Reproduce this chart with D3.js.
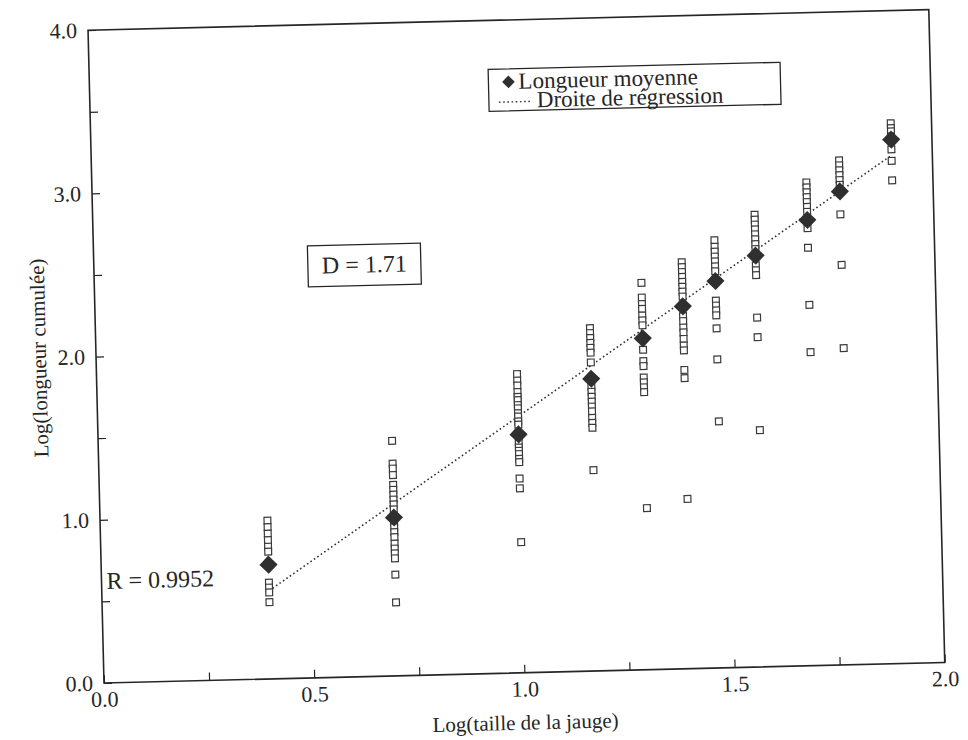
<!DOCTYPE html>
<html><head><meta charset="utf-8">
<script src="https://cdn.jsdelivr.net/npm/d3@7"></script>
<style>body{margin:0;background:#fff}</style>
</head><body>
<svg id="chart" width="968" height="740"></svg>
<script>
// ---- data ----
const gaugeLogSizes = [0.398, 0.699, 1.0, 1.176, 1.301, 1.398, 1.477, 1.574, 1.699, 1.778, 1.903];
const meanLengths   = [0.70, 0.97, 1.46, 1.79, 2.03, 2.22, 2.37, 2.52, 2.73, 2.90, 3.21];
const col1  = [0.97, 0.93, 0.89, 0.85, 0.81, 0.78, 0.59, 0.56, 0.53, 0.47];
const col2  = [1.44, 1.30, 1.27, 1.23, 1.17, 1.14, 1.11, 1.08, 1.05, 1.02, 0.94, 0.91, 0.88, 0.85, 0.81, 0.78, 0.75, 0.72, 0.62, 0.45];
const col3  = [1.83, 1.79, 1.76, 1.72, 1.69, 1.67, 1.64, 1.62, 1.59, 1.57, 1.54, 1.52, 1.41, 1.38, 1.36, 1.34, 1.31, 1.29, 1.19, 1.13, 0.80];
const col4  = [2.10, 2.07, 2.04, 2.01, 1.98, 1.95, 1.89, 1.74, 1.71, 1.68, 1.65, 1.62, 1.59, 1.55, 1.52, 1.49, 1.23];
const col5  = [2.37, 2.28, 2.24, 2.21, 2.17, 2.14, 2.11, 1.96, 1.89, 1.86, 1.79, 1.76, 1.73, 1.70, 0.99];
const col6  = [2.49, 2.46, 2.43, 2.40, 2.37, 2.34, 2.31, 2.28, 2.16, 2.13, 2.09, 2.06, 2.02, 1.98, 1.95, 1.83, 1.78, 1.04];
const col7  = [2.62, 2.58, 2.55, 2.52, 2.49, 2.46, 2.43, 2.25, 2.22, 2.19, 2.16, 2.08, 1.89, 1.51];
const col8  = [2.77, 2.74, 2.71, 2.68, 2.65, 2.62, 2.59, 2.56, 2.46, 2.43, 2.40, 2.14, 2.02, 1.45];
const col9  = [2.96, 2.93, 2.90, 2.87, 2.84, 2.81, 2.78, 2.68, 2.56, 2.21, 1.92];
const col10 = [3.09, 3.06, 3.03, 3.00, 2.97, 2.94, 2.76, 2.45, 1.94];
const col11 = [3.31, 3.28, 3.26, 3.23, 3.15, 3.08, 2.96];
const regressionSlope = 1.71;
const regressionIntercept = -0.14;
const regressionXRange = [0.398, 1.903];
const xTickValues = [0, 0.25, 0.5, 0.75, 1.0, 1.25, 1.5, 1.75, 2.0];
const xTickLabels = ["0.0", "0.5", "1.0", "1.5", "2.0"];
const yTickValues = [0, 0.5, 1, 1.5, 2, 2.5, 3, 3.5, 4];
const yTickLabels = ["0.0", "1.0", "2.0", "3.0", "4.0"];
const legendLabels = ["Longueur moyenne", "Droite de régression"];
const xTitle = "Log(taille de la jauge)";
const yTitle = "Log(longueur cumulée)";
const dLabel = "D = 1.71";
const rLabel = "R = 0.9952";

// ---- drawing ----
const columns = [col1, col2, col3, col4, col5, col6, col7, col8, col9, col10, col11];
const W = 841, H = 653;
const FONT = "'Liberation Serif', 'Times New Roman', serif";
const INK = "#262626";

const svg = d3.select("#chart");
svg.append("rect").attr("width", 968).attr("height", 740).attr("fill", "#fff");

const g = svg.append("g").attr("transform", "translate(104,683) rotate(-1.4)");

const x = d3.scaleLinear().domain([0, 2]).range([0, W]);
const y = d3.scaleLinear().domain([0, 4]).range([0, -H]);

// frame
g.append("rect").attr("x", 0).attr("y", -H).attr("width", W).attr("height", H)
  .attr("fill", "none").attr("stroke", INK).attr("stroke-width", 1.6);

// x axis
const xAxis = d3.axisBottom(x).tickValues(xTickValues).tickSize(-8).tickSizeOuter(0)
  .tickFormat(d => { const i = xTickLabels.indexOf(d.toFixed(1)); return (Math.abs(d*2 - Math.round(d*2)) < 1e-9 && i >= 0) ? xTickLabels[i] : ""; });
const xg = g.append("g").call(xAxis);
xg.select(".domain").remove();
xg.selectAll(".tick line").attr("stroke", INK).attr("stroke-width", 1.2);
xg.selectAll(".tick text").attr("font-family", FONT).attr("font-size", 22).attr("fill", INK).attr("dy", "0.9em").attr("y", 4);

// y axis
const yAxis = d3.axisLeft(y).tickValues(yTickValues).tickSize(-8).tickSizeOuter(0)
  .tickFormat(d => { const i = yTickLabels.indexOf(d.toFixed(1)); return (Number.isInteger(d) && i >= 0) ? yTickLabels[i] : ""; });
const yg = g.append("g").call(yAxis);
yg.select(".domain").remove();
yg.selectAll(".tick line").attr("stroke", INK).attr("stroke-width", 1.2);
yg.selectAll(".tick text").attr("font-family", FONT).attr("font-size", 22).attr("fill", INK).attr("x", -11);

// axis titles
g.append("text").attr("x", W/2).attr("y", 57).attr("text-anchor", "middle")
  .attr("font-family", FONT).attr("font-size", 21).attr("fill", INK).text(xTitle);
g.append("text").attr("transform", `translate(-50,${-H/2}) rotate(-90)`).attr("text-anchor", "middle")
  .attr("font-family", FONT).attr("font-size", 21).attr("fill", INK).text(yTitle);

// regression line
g.append("line")
  .attr("x1", x(regressionXRange[0])).attr("y1", y(regressionSlope*regressionXRange[0] + regressionIntercept))
  .attr("x2", x(regressionXRange[1])).attr("y2", y(regressionSlope*regressionXRange[1] + regressionIntercept))
  .attr("stroke", "#333").attr("stroke-width", 1.6).attr("stroke-dasharray", "1.6,2.6");

// individual measurements (open squares)
const pts = [];
columns.forEach((c, i) => c.forEach(v => pts.push({ x: gaugeLogSizes[i], y: v })));
const sq = d3.symbol(d3.symbolSquare, 46);
g.append("g").selectAll("path").data(pts).join("path")
  .attr("d", sq).attr("transform", d => `translate(${x(d.x)},${y(d.y)})`)
  .attr("fill", "#fff").attr("stroke", "#3a3a3a").attr("stroke-width", 1.2);

// means (filled diamonds)
const dia = d3.symbol(d3.symbolSquare, 165);
g.append("g").selectAll("path").data(gaugeLogSizes.map((gx, i) => ({ x: gx, y: meanLengths[i] }))).join("path")
  .attr("d", dia).attr("transform", d => `translate(${x(d.x)},${y(d.y)}) rotate(45)`)
  .attr("fill", "#2f2f2f");

// legend
const lg = g.append("g").attr("transform", `translate(399,${-H + 49})`);
lg.append("rect").attr("width", 292).attr("height", 42).attr("fill", "#fff").attr("stroke", INK).attr("stroke-width", 1.3);
lg.append("path").attr("d", d3.symbol(d3.symbolSquare, 80)).attr("transform", "translate(20,13) rotate(45)").attr("fill", "#2f2f2f");
lg.append("text").attr("x", 30).attr("y", 20).attr("font-family", FONT).attr("font-size", 23).attr("fill", INK).text(legendLabels[0]);
lg.append("line").attr("x1", 10).attr("x2", 42).attr("y1", 33).attr("y2", 33)
  .attr("stroke", "#333").attr("stroke-width", 1.4).attr("stroke-dasharray", "1.6,2.6");
lg.append("text").attr("x", 48).attr("y", 39).attr("font-family", FONT).attr("font-size", 23).attr("fill", INK).text(legendLabels[1]);

// D annotation box
const dg = g.append("g").attr("transform", `translate(214,${-432})`);
dg.append("rect").attr("width", 113).attr("height", 41).attr("fill", "#fff").attr("stroke", INK).attr("stroke-width", 1.3);
dg.append("text").attr("x", 56.5).attr("y", 28).attr("text-anchor", "middle")
  .attr("font-family", FONT).attr("font-size", 24).attr("fill", INK).text(dLabel);

// R annotation
g.append("text").attr("x", 5).attr("y", -94).attr("font-family", FONT).attr("font-size", 24).attr("fill", INK).text(rLabel);
</script>
</body></html>
